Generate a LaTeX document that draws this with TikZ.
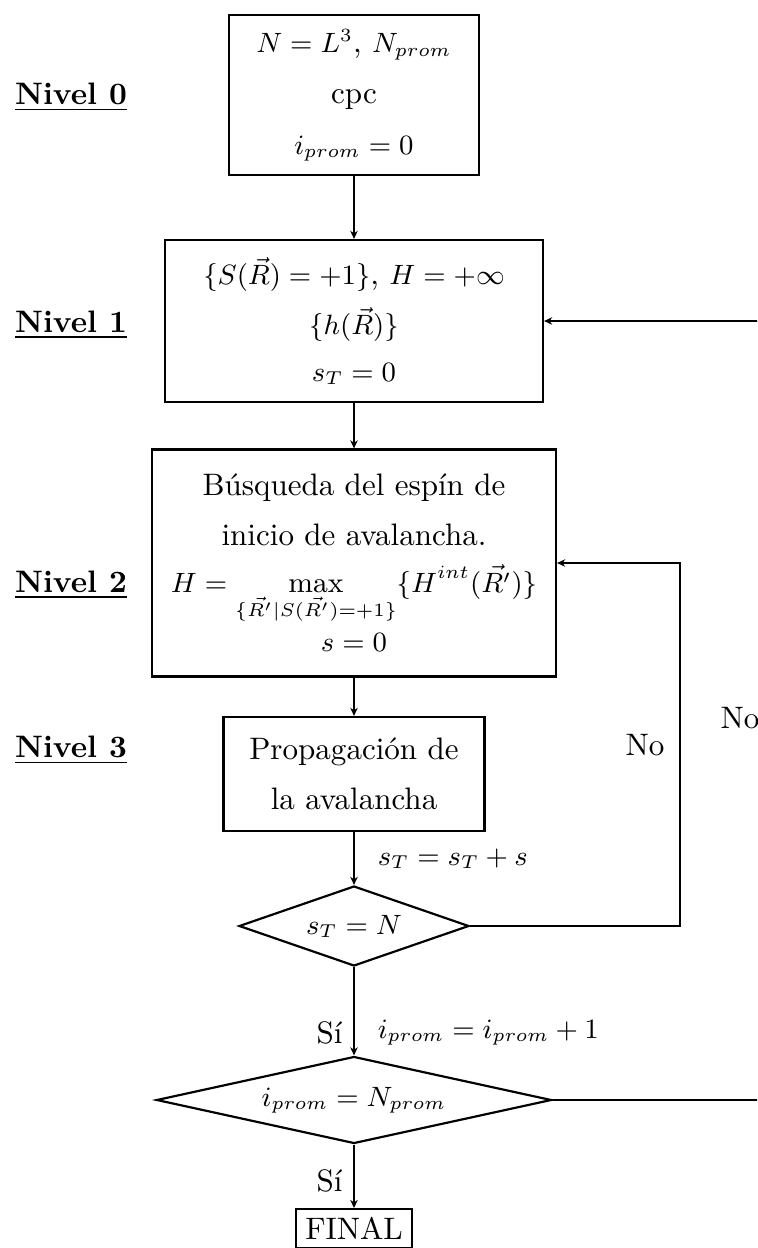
\documentclass[tikz,border=0pt]{standalone}
\usepackage{fontspec}
\usetikzlibrary{shapes.geometric,arrows.meta}
\DeclareMathSizes{10}{9.3}{6.5}{5}
\def\pxu{0.322pt}
\begin{document}
\begin{tikzpicture}[x=0.322pt,y=-0.322pt,line width=0.7pt,
  box/.style={draw,rectangle,align=center,inner sep=0pt},
  dia/.style={draw,diamond,inner sep=0pt,aspect=3},
  lvl/.style={font=\bfseries},
  conn/.style={-{Stealth[length=2.6pt,width=2.4pt,inset=0.8pt]}}]
\useasboundingbox (0,0) rectangle (757,1248);
\begin{scope}
\clip (0,0) rectangle (757,1248);
\node[box,minimum width=250*\pxu,minimum height=160*\pxu] (b0) at (354,95)
  {$N=L^3$, $N_{prom}$\\[4.3pt] cpc\\[4.3pt] $i_{prom}=0$};
\node[box,minimum width=378*\pxu,minimum height=162*\pxu] (b1) at (354,321)
  {$\{S(\vec{R})=+1\}$, $H=+\infty$\\[4pt] $\{h(\vec{R})\}$\\[3pt] $s_T=0$};
\node[box,minimum width=404*\pxu,minimum height=227*\pxu] (b2) at (354,563)
  {Búsqueda del espín de\\[4pt] inicio de avalancha.\\[3pt]
   $\displaystyle H=\max_{\{\vec{R'}|S(\vec{R'})=+1\}}\{H^{int}(\vec{R'})\}$\\[2pt] $s=0$};
\node[box,minimum width=261*\pxu,minimum height=114*\pxu] (b3) at (354,774)
  {Propagación de\\[4pt] la avalancha};
\node[dia,minimum width=230*\pxu,minimum height=80*\pxu] (d1) at (354,926) {$s_T=N$};
\node[dia,aspect=4.5,minimum width=395*\pxu,minimum height=87*\pxu] (d2) at (354,1100) {$i_{prom}=N_{prom}$};
\node[box,minimum width=116*\pxu,minimum height=39*\pxu,anchor=north] (fin) at (354,1208) {FINAL};

\node[lvl] (l0) at (71,97) {\underline{Nivel 0}};
\node[lvl] (l1) at (71,325) {\underline{Nivel 1}};
\node[lvl] (l2) at (71,585) {\underline{Nivel 2}};
\node[lvl] (l3) at (71,750) {\underline{Nivel 3}};

\coordinate (r1) at (680,563);
\coordinate (r2) at (775,321);

\draw[conn] (b0) -- (b1);
\draw[conn] (b1) -- (b2);
\draw[conn] (b2) -- (b3);
\draw[conn] (b3) -- node[right=4pt] {$s_T=s_T+s$} (d1);
\draw[conn] (d1) -- node[left,pos=0.74] {Sí} node[right=4pt,pos=0.74] {$i_{prom}=i_{prom}+1$} (d2);
\draw[conn] (d2) -- node[left,pos=0.57] {Sí} (fin);
\draw[conn] (d1.east) -| (r1) -- (b2.east);
\draw[conn] (d2.east) -| (r2) -- (b1.east);
\node (no1) at (645,745) {No};
\node (no2) at (740,718) {No};
\end{scope}
\end{tikzpicture}
\end{document}
